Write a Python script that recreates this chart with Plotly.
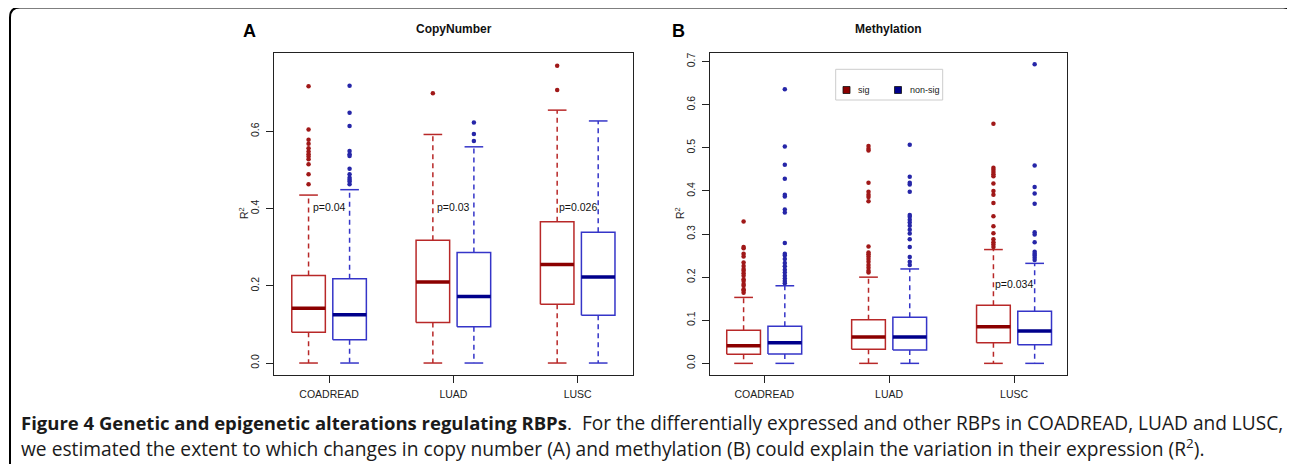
import plotly.graph_objects as go

W, H = 1295, 464

categories = ["COADREAD", "LUAD", "LUSC"]

# ---------------- Copy number (panel A) ----------------
cn_sig_low = [0.0, 0.0, 0.0]
cn_sig_q1 = [0.080, 0.105, 0.152]
cn_sig_med = [0.142, 0.210, 0.255]
cn_sig_q3 = [0.227, 0.318, 0.366]
cn_sig_high = [0.435, 0.592, 0.655]
cn_sig_out = [
    [0.717, 0.605, 0.578, 0.568, 0.556, 0.548, 0.541, 0.535, 0.528, 0.515, 0.489, 0.463],
    [0.699],
    [0.770, 0.707],
]
cn_non_low = [0.0, 0.0, 0.0]
cn_non_q1 = [0.060, 0.094, 0.124]
cn_non_med = [0.125, 0.172, 0.223]
cn_non_q3 = [0.218, 0.286, 0.339]
cn_non_high = [0.449, 0.560, 0.627]
cn_non_out = [
    [0.718, 0.648, 0.614, 0.549, 0.541, 0.536, 0.503, 0.489, 0.480, 0.475, 0.470, 0.463],
    [0.623, 0.593, 0.575],
    [],
]
cn_pvals = ["p=0.04", "p=0.03", "p=0.026"]
cn_pval_y = [0.405, 0.405, 0.405]

# ---------------- Methylation (panel B) ----------------
me_sig_low = [0.0, 0.0, 0.0]
me_sig_q1 = [0.021, 0.033, 0.048]
me_sig_med = [0.041, 0.061, 0.085]
me_sig_q3 = [0.077, 0.101, 0.135]
me_sig_high = [0.153, 0.200, 0.264]
me_sig_out = [
    [0.329, 0.270, 0.267, 0.254, 0.248, 0.234, 0.226, 0.219, 0.215, 0.209, 0.203,
     0.195, 0.191, 0.184, 0.180, 0.172, 0.169, 0.164],
    [0.504, 0.498, 0.494, 0.419, 0.398, 0.391, 0.386, 0.376, 0.271, 0.257, 0.253,
     0.248, 0.242, 0.236, 0.228, 0.222, 0.215, 0.211],
    [0.556, 0.454, 0.449, 0.444, 0.439, 0.434, 0.417, 0.400, 0.391, 0.372, 0.341,
     0.318, 0.302, 0.288, 0.281, 0.276, 0.270],
]
me_non_low = [0.0, 0.0, 0.0]
me_non_q1 = [0.022, 0.031, 0.043]
me_non_med = [0.048, 0.061, 0.075]
me_non_q3 = [0.086, 0.107, 0.121]
me_non_high = [0.180, 0.219, 0.232]
me_non_out = [
    [0.636, 0.503, 0.461, 0.428, 0.391, 0.387, 0.357, 0.350, 0.279, 0.254, 0.250,
     0.242, 0.233, 0.225, 0.217, 0.211, 0.203, 0.197, 0.191, 0.186],
    [0.507, 0.433, 0.419, 0.415, 0.398, 0.344, 0.340, 0.333, 0.327, 0.319, 0.310,
     0.301, 0.288, 0.270, 0.247, 0.236, 0.228],
    [0.694, 0.459, 0.409, 0.394, 0.370, 0.304, 0.299, 0.281, 0.259, 0.254, 0.250,
     0.245, 0.240],
]
me_pvals = ["", "", "p=0.034"]
me_pval_y = [None, None, 0.184]

legend_labels = ["sig", "non-sig"]

# ---------------- styles ----------------
SIG = dict(box="#B82828", med="#8B0000", pt="#A01818")
NON = dict(box="#3535C8", med="#00008B", pt="#2626A8")
OFF = 0.165      # half distance between paired boxes
BW = 0.27        # box width
CW = 0.075       # half staple width
AX_FONT = "Liberation Sans"
CAP_FONT = "Open Sans"
PAGE_OFF = 8     # default body margin of the html page

fig = go.Figure()


def add_group(xa, ya, sign, low, q1, med, q3, high, outs, col):
    for i in range(len(categories)):
        xc = (i + 1) + sign * OFF
        x0, x1 = xc - BW / 2, xc + BW / 2
        common = dict(xaxis=xa, yaxis=ya, hoverinfo="skip", showlegend=False)
        fig.add_trace(go.Scatter(x=[xc, xc, None, xc, xc],
                                 y=[q3[i], high[i], None, q1[i], low[i]],
                                 mode="lines",
                                 line=dict(color=col["box"], width=1.5, dash="5px,4px"),
                                 **common))
        fig.add_trace(go.Scatter(x=[xc - CW, xc + CW, None, xc - CW, xc + CW],
                                 y=[high[i], high[i], None, low[i], low[i]],
                                 mode="lines",
                                 line=dict(color=col["box"], width=1.5), **common))
        fig.add_trace(go.Scatter(x=[x0, x1, x1, x0, x0],
                                 y=[q1[i], q1[i], q3[i], q3[i], q1[i]],
                                 mode="lines",
                                 line=dict(color=col["box"], width=1.5), **common))
        fig.add_trace(go.Scatter(x=[x0, x1], y=[med[i], med[i]], mode="lines",
                                 line=dict(color=col["med"], width=3.5), **common))
        if outs[i]:
            fig.add_trace(go.Scatter(x=[xc] * len(outs[i]), y=outs[i], mode="markers",
                                     marker=dict(color=col["pt"], size=4.5,
                                                 line=dict(width=0)),
                                     **common))


add_group("x", "y", -1, cn_sig_low, cn_sig_q1, cn_sig_med, cn_sig_q3, cn_sig_high, cn_sig_out, SIG)
add_group("x", "y", +1, cn_non_low, cn_non_q1, cn_non_med, cn_non_q3, cn_non_high, cn_non_out, NON)
add_group("x2", "y2", -1, me_sig_low, me_sig_q1, me_sig_med, me_sig_q3, me_sig_high, me_sig_out, SIG)
add_group("x2", "y2", +1, me_non_low, me_non_q1, me_non_med, me_non_q3, me_non_high, me_non_out, NON)


def px(x):
    return (x - PAGE_OFF) / W


def py(y):
    return 1 - (y - PAGE_OFF) / H


ydom = [py(375), py(53)]
axis_common = dict(showline=True, linecolor="#222", linewidth=1.2, mirror=True,
                   ticks="outside", ticklen=7, tickwidth=1, tickcolor="#222",
                   showgrid=False, zeroline=False,
                   tickfont=dict(family=AX_FONT, size=10.5, color="#222"))

fig.update_layout(
    width=W, height=H,
    margin=dict(l=0, r=0, t=0, b=0),
    paper_bgcolor="white", plot_bgcolor="white",
    showlegend=False,
    xaxis=dict(domain=[px(274), px(633)], range=[0.557, 3.445],
               tickvals=[1, 2, 3], ticktext=categories, anchor="y",
               ticklabelstandoff=2, **axis_common),
    yaxis=dict(domain=ydom, range=[-0.031, 0.803], tickvals=[0, 0.2, 0.4, 0.6],
               ticktext=["0.0", "0.2", "0.4", "0.6"], tickangle=-90, anchor="x",
               ticklabelstandoff=3, **axis_common),
    xaxis2=dict(domain=[px(710), px(1067)], range=[0.566, 3.424],
                tickvals=[1, 2, 3], ticktext=categories, anchor="y2",
                ticklabelstandoff=2, **axis_common),
    yaxis2=dict(domain=ydom, range=[-0.027, 0.720],
                tickvals=[0, 0.1, 0.2, 0.3, 0.4, 0.5, 0.6, 0.7],
                ticktext=["0.0", "0.1", "0.2", "0.3", "0.4", "0.5", "0.6", "0.7"],
                tickangle=-90, anchor="x2", ticklabelstandoff=3, **axis_common),
)

ann = []


def paper_text(x, y, text, size, color="#111", family=AX_FONT, xanchor="center",
               angle=0):
    ann.append(dict(x=px(x), y=py(y), xref="paper", yref="paper", text=text,
                    xanchor=xanchor, yanchor="middle", textangle=angle, showarrow=False,
                    font=dict(family=family, size=size, color=color)))


# p-values
for i, t in enumerate(cn_pvals):
    if t:
        ann.append(dict(x=i + 1, y=cn_pval_y[i], xref="x", yref="y", text=t, showarrow=False,
                        xanchor="center", yanchor="middle",
                        font=dict(family=AX_FONT, size=10.5, color="#111")))
for i, t in enumerate(me_pvals):
    if t:
        ann.append(dict(x=i + 1, y=me_pval_y[i], xref="x2", yref="y2", text=t, showarrow=False,
                        xanchor="center", yanchor="middle",
                        font=dict(family=AX_FONT, size=10.5, color="#111")))

# titles & panel letters
paper_text(453.5, 29, "<b>CopyNumber</b>", 12)
paper_text(888.5, 29, "<b>Methylation</b>", 12)
paper_text(249, 31, "<b>A</b>", 18, "#000")
paper_text(678, 31, "<b>B</b>", 18, "#000")
# y titles
for x in [243, 679]:
    paper_text(x, 213, "R<sup>2</sup>", 10.5, "#222", angle=-90)

# legend (panel B)
shapes = [
    dict(type="rect", xref="paper", yref="paper", x0=px(835.7), x1=px(942.7),
         y0=py(100), y1=py(69.3), line=dict(color="#cccccc", width=1), fillcolor="white",
         layer="below"),
]
for (sx, tx, col, lab) in [(846.5, 856, SIG["med"], legend_labels[0]),
                           (898, 908, NON["med"], legend_labels[1])]:
    shapes.append(dict(type="rect", xref="paper", yref="paper", x0=px(sx - 3.5), x1=px(sx + 3.5),
                       y0=py(93.5), y1=py(86.5), fillcolor=col, line=dict(color="#111", width=0.8)))
    paper_text(tx, 90, lab, 9, "#222", xanchor="left")

# outer rounded frame
r = 10
L, R_, T, B = 10, 1293, 7.5, 480
path = (f"M {px(L)},{py(B)} L {px(L)},{py(T + r)} Q {px(L)},{py(T)} {px(L + r)},{py(T)} "
        f"L {px(R_ - r)},{py(T)} Q {px(R_)},{py(T)} {px(R_)},{py(T + r)} L {px(R_)},{py(B)}")
shapes.append(dict(type="path", xref="paper", yref="paper", path=path,
                   line=dict(color="#000", width=2)))

# caption
paper_text(19, 423, "<b><span style='font-size:18.5px'>Figure 4 Genetic and epigenetic alterations "
                    "regulating RBPs</span></b>.", 19, "#1a1a1a", CAP_FONT, "left")
paper_text(1285, 423, "For the differentially expressed and other RBPs in COADREAD, LUAD and LUSC,",
           19.1, "#1a1a1a", CAP_FONT, "right")
paper_text(19, 448, "we estimated the extent to which changes in copy number (A) and methylation (B) "
                    "could explain the variation in their expression (R<sup>2</sup>).",
           19.2, "#1a1a1a", CAP_FONT, "left")

fig.update_layout(annotations=ann, shapes=shapes)
fig.write_html("out.html")
